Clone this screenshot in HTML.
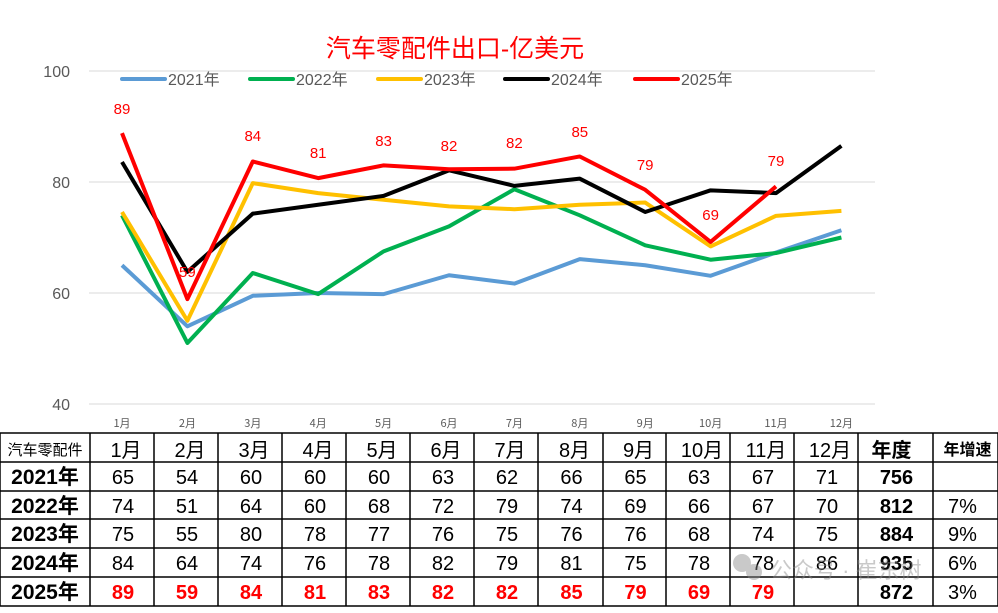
<!DOCTYPE html>
<html><head><meta charset="utf-8"><style>
body{margin:0;background:#fff;width:998px;height:608px;overflow:hidden;font-family:"Liberation Sans","Noto Sans CJK SC",sans-serif}
</style></head><body>
<svg id="s" width="998" height="608" xmlns="http://www.w3.org/2000/svg" font-family="Liberation Sans, Noto Sans CJK SC, sans-serif"></svg>
<script>
const s=document.getElementById('s');let h='';
const X=m=>122+65.4*m, Y=v=>404-(v-40)*5.55;
h+='<text x="455" y="57" font-size="25" fill="#ff0000" text-anchor="middle">汽车零配件出口-亿美元</text>';
[100,80,60,40].forEach(v=>{h+=`<line x1="89" x2="875" y1="${Y(v)}" y2="${Y(v)}" stroke="#d9d9d9" stroke-width="1"/>`;h+=`<text x="70" y="${Y(v)+6}" font-size="16" fill="#595959" text-anchor="end">${v}</text>`;});
for(let m=0;m<12;m++)h+=`<text x="${X(m)}" y="427" font-size="11" fill="#595959" text-anchor="middle" font-family="Noto Sans CJK SC">${m+1}月</text>`;
const D=[['2021年','#5b9bd5',[65,54,59.5,60,59.8,63.2,61.7,66.1,65,63.1,67.3,71.3]],
['2022年','#00b050',[74,51,63.6,59.8,67.5,72,78.7,74,68.6,66,67.2,70]],
['2023年','#ffc000',[74.6,55,79.8,78,76.8,75.6,75.1,75.9,76.3,68.4,73.9,74.8]],
['2024年','#000000',[83.6,63.8,74.3,75.9,77.5,82.1,79.3,80.6,74.6,78.5,78,86.5]],
['2025年','#ff0000',[88.8,58.9,83.7,80.7,83,82.3,82.4,84.6,78.6,69.2,79.2]]];
const lx=[122,250,378,505,635];
D.forEach((d,i)=>{h+=`<polyline fill="none" stroke="${d[1]}" stroke-width="4" stroke-linejoin="round" points="${d[2].map((v,m)=>X(m)+','+Y(v)).join(' ')}"/>`;
h+=`<line x1="${lx[i]}" x2="${lx[i]+43}" y1="79" y2="79" stroke="${d[1]}" stroke-width="4" stroke-linecap="round"/><text x="${lx[i]+46}" y="85" font-size="16" fill="#595959">${d[0]}</text>`;});
[89,59,84,81,83,82,82,85,79,69,79].forEach((v,m)=>{const yy=[114,277,141,158,146,151,148,137,170,220,166][m];h+=`<text x="${X(m)}" y="${yy}" font-size="15" fill="#ff0000" text-anchor="middle">${v}</text>`;});
const cx=[0,90,154,218,282,346,410,474,538,603,666,730,794,858,933,998], ry=[433,462,491,519,548,577,606];
ry.forEach(y=>h+=`<line x1="0" x2="998" y1="${y}" y2="${y}" stroke="#000" stroke-width="1.5"/>`);
cx.forEach(x=>h+=`<line x1="${x}" x2="${x}" y1="433" y2="606" stroke="#000" stroke-width="1.5"/>`);
const mid=i=>(cx[i]+cx[i+1])/2;
h+=`<text x="45" y="455" font-size="15" text-anchor="middle">汽车零配件</text>`;
for(let m=0;m<12;m++)h+=`<text x="${mid(m+1)+4}" y="457" font-size="20" text-anchor="middle">${m+1}月</text>`;
h+=`<text x="${mid(13)-4}" y="457" font-size="20" font-weight="bold" text-anchor="middle">年度</text><text x="${mid(14)+2}" y="455" font-size="16" font-weight="bold" text-anchor="middle">年增速</text>`;
const T=[[65,54,60,60,60,63,62,66,65,63,67,71,756,''],[74,51,64,60,68,72,79,74,69,66,67,70,812,'7%'],[75,55,80,78,77,76,75,76,76,68,74,75,884,'9%'],[84,64,74,76,78,82,79,81,75,78,78,86,935,'6%'],[89,59,84,81,83,82,82,85,79,69,79,'',872,'3%']];
T.forEach((r,i)=>{const y=ry[i+1]+22;h+=`<text x="45" y="${y}" font-size="21" font-weight="bold" text-anchor="middle">${2021+i}年</text>`;
r.forEach((v,j)=>{const red=i==4&&j<12;const bold=red||j==12;h+=`<text x="${j==13?mid(14)-3:(j==12?mid(13)+1:mid(j+1)+1)}" y="${y}" font-size="20" ${bold?'font-weight="bold"':''} fill="${red?'#ff0000':'#000'}" text-anchor="middle">${v}</text>`;});});
h+=`<g opacity="0.45" fill="#888"><circle cx="742" cy="563" r="9"/><circle cx="754" cy="572" r="8"/><text x="770" y="578" font-size="22">公众号 · 崔东树</text></g>`;
s.innerHTML=h;
</script>
</body></html>
